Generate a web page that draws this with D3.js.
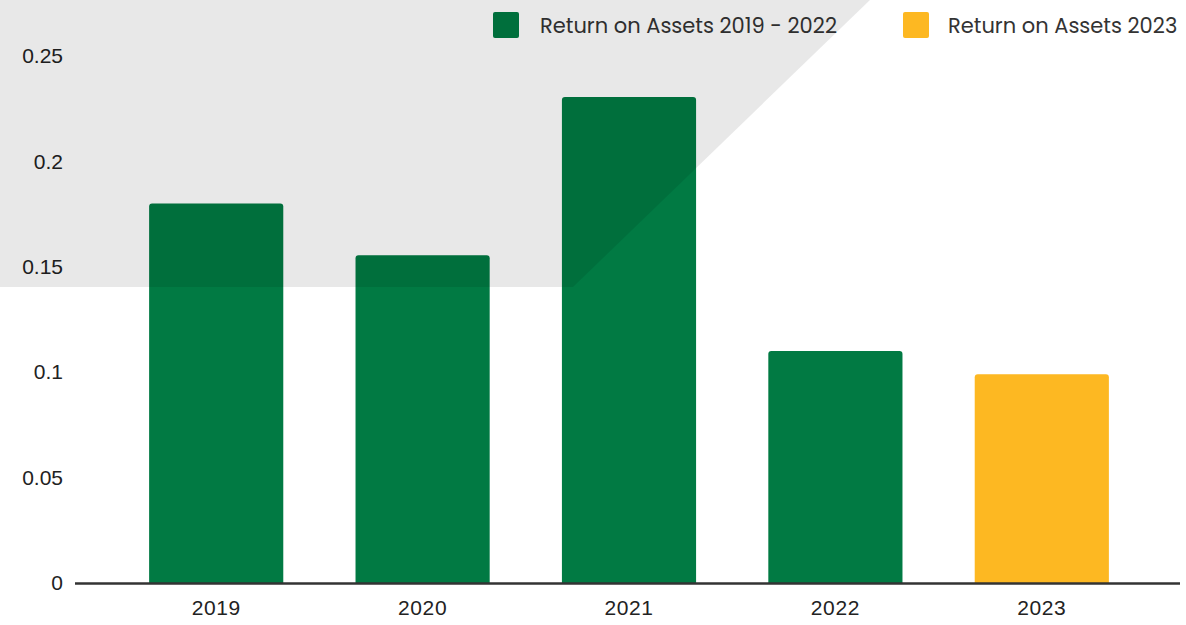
<!DOCTYPE html>
<html>
<head>
<meta charset="utf-8">
<script src="https://cdn.jsdelivr.net/npm/d3@7"></script>
<style>
  body { margin: 0; background: #fff; }
  svg { display: block; }
</style>
</head>
<body>
<div class="chart"></div>
<script>
const years = ['2019', '2020', '2021', '2022', '2023'];
const roa = [0.18, 0.1555, 0.2305, 0.11, 0.099];
const seriesOf = ['hist', 'hist', 'hist', 'hist', 'latest'];
const yTicks = [0, 0.05, 0.1, 0.15, 0.2, 0.25];
const legendItems = [
  { key: 'hist', label: 'Return on Assets 2019 - 2022' },
  { key: 'latest', label: 'Return on Assets 2023' },
];

const width = 1186;
const height = 625;
const colors = { hist: '#017a43', latest: '#fdb822' };

const svg = d3.select('.chart')
  .append('svg')
  .attr('width', width)
  .attr('height', height);

const x = d3.scaleBand()
  .domain(years)
  .range([113, 1145])
  .paddingInner(0.35)
  .paddingOuter(0.175);

const y = d3.scaleLinear()
  .domain([0, 0.25])
  .range([583, 56]);

// bars with rounded tops
const r = 3;
const barPath = (x0, w, y0, y1) => `M${x0},${y1}V${y0 + r}Q${x0},${y0} ${x0 + r},${y0}`
  + `H${x0 + w - r}Q${x0 + w},${y0} ${x0 + w},${y0 + r}V${y1}Z`;

const data = years.map((yr, i) => ({ year: yr, value: roa[i], series: seriesOf[i] }));

svg.append('g')
  .selectAll('path')
  .data(data)
  .enter().append('path')
  .attr('d', d => barPath(x(d.year), x.bandwidth(), y(d.value), y(0)))
  .attr('fill', d => colors[d.series]);

// y axis labels
const yAxis = d3.axisLeft(y)
  .tickValues(yTicks)
  .tickSize(0)
  .tickPadding(0)
  .tickFormat(d => d3.format('')(+d.toFixed(2)));

const yAxisGroup = svg.append('g')
  .attr('transform', 'translate(63,0)')
  .call(yAxis);
yAxisGroup.select('.domain').remove();
yAxisGroup.selectAll('text')
  .attr('font-family', 'Liberation Sans, Arial, sans-serif')
  .attr('font-size', 21)
  .attr('fill', '#222');

// x axis
const xAxis = d3.axisBottom(x).tickSize(0).tickPadding(17);
const xAxisGroup = svg.append('g')
  .attr('transform', `translate(0,${y(0)})`)
  .call(xAxis);
xAxisGroup.select('.domain').remove();
xAxisGroup.selectAll('text')
  .attr('font-family', 'Liberation Sans, Arial, sans-serif')
  .attr('font-size', 21)
  .attr('letter-spacing', 0.6)
  .attr('fill', '#222');

svg.append('line')
  .attr('x1', 75).attr('x2', 1180)
  .attr('y1', y(0) + 0.5).attr('y2', y(0) + 0.5)
  .attr('stroke', '#333')
  .attr('stroke-width', 2.5);

// legend
const legendX = [493, 903];
const legendGap = [47, 45];
const legend = svg.append('g')
  .selectAll('g')
  .data(legendItems)
  .enter().append('g')
  .attr('transform', (d, i) => `translate(${legendX[i]},12)`);

legend.append('rect')
  .attr('width', 26).attr('height', 26)
  .attr('rx', 2)
  .attr('fill', d => colors[d.key]);

legend.append('text')
  .attr('x', (d, i) => legendGap[i])
  .attr('y', 21)
  .attr('font-family', 'Poppins, Inter, sans-serif')
  .attr('font-size', 21)
  .attr('fill', '#333')
  .text(d => d.label);

// grey decorative shape laid over everything
svg.append('path')
  .attr('d', 'M0,0H870L573,287H0Z')
  .attr('fill', '#000')
  .attr('fill-opacity', 0.09)
  .attr('pointer-events', 'none');
</script>
</body>
</html>
